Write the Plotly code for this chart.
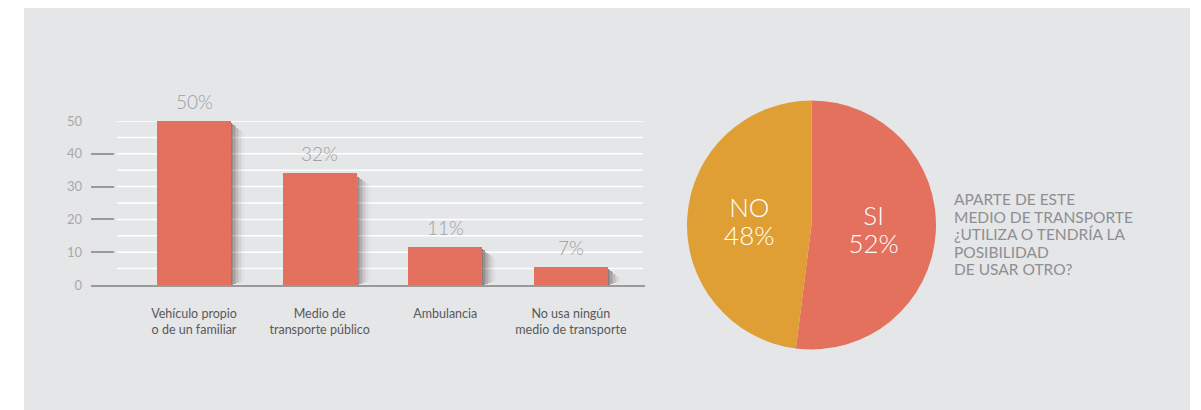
import plotly.graph_objects as go

# ---- data ----
categories = ["Vehículo propio<br>o de un familiar", "Medio de<br>transporte público",
              "Ambulancia", "No usa ningún<br>medio de transporte"]
bar_values = [50, 34, 11.5, 5.5]          # bar heights as drawn
bar_labels = ["50%", "32%", "11%", "7%"]  # printed labels
y_ticks = [0, 10, 20, 30, 40, 50]
grid_vals = [5, 10, 15, 20, 25, 30, 35, 40, 45, 50]

pie_labels = ["SI", "NO"]
pie_values = [52, 48]
pie_pcts = ["52%", "48%"]
question_lines = ["APARTE DE ESTE", "MEDIO DE TRANSPORTE", "¿UTILIZA O TENDRÍA LA",
                  "POSIBILIDAD", "DE USAR OTRO?"]

W, H = 1201, 410
CORAL = "#e4705e"
GOLD = "#df9f35"
FONT = "Lato"

def px(x):
    return x / W

def py(y):
    return 1 - y / H

fig = go.Figure()
xs = list(range(len(categories)))
bar_w = 0.59

# shadow strips to the right of bars
n_strips = 10
strip_w = 0.012
for i in range(n_strips):
    alpha = 0.5 * (1 - i / n_strips) ** 1.8
    tops = [max(v - 0.35 * i - 0.6, 0.2) for v in bar_values]
    bases = [min(0.15 * i, t) for t in tops]
    fig.add_trace(go.Bar(
        x=xs, y=[t - b for t, b in zip(tops, bases)], base=bases,
        width=strip_w, offset=bar_w / 2 - 0.006 + i * strip_w,
        marker=dict(color=f"rgba(45,20,20,{alpha:.3f})", line=dict(width=0)),
        hoverinfo="skip", showlegend=False))

fig.add_trace(go.Bar(
    x=xs, y=bar_values, width=bar_w,
    marker=dict(color=CORAL, line=dict(width=0)),
    showlegend=False, cliponaxis=False))

for x, v, t in zip(xs, bar_values, bar_labels):
    fig.add_annotation(x=x, y=v, xref="x", yref="y", text=t, showarrow=False,
                       yanchor="bottom", yshift=6,
                       font=dict(family=FONT, size=19, color="#9d9fa2", weight=300))

# background panel
fig.add_shape(type="rect", xref="paper", yref="paper",
              x0=px(24), x1=px(1190), y0=0, y1=py(8),
              fillcolor="#e5e6e8", line=dict(width=0), layer="below")

# gridlines
for g in grid_vals:
    fig.add_shape(type="line", xref="paper", yref="y",
                  x0=px(117), x1=px(643), y0=g, y1=g,
                  line=dict(color="white", width=1.5), layer="below")

pie_text = [f"<span style='font-size:26px'>{l}</span><br><span style='font-size:26px'>{p}</span>"
            for l, p in zip(pie_labels, pie_pcts)]
fig.add_trace(go.Pie(
    labels=pie_labels, values=pie_values, text=pie_text, textinfo="text",
    sort=False, direction="clockwise", rotation=0,
    marker=dict(colors=[CORAL, GOLD], line=dict(width=0)),
    textposition="inside", insidetextorientation="horizontal",
    insidetextfont=dict(family=FONT, size=22, color="white", weight=300),
    domain=dict(x=[px(687), px(936)], y=[py(350), py(100)]),
    showlegend=False, hoverinfo="label+percent"))

question = "<br>".join(f"<span style='font-size:15.5px'>{l}</span>" for l in question_lines)
fig.add_annotation(x=px(952), y=py(188), xref="paper", yref="paper",
                   xanchor="left", yanchor="top", align="left", showarrow=False,
                   text=question,
                   font=dict(family=FONT, size=13.5, color="#8d8f92"))

fig.update_layout(
    width=W, height=H, autosize=False,
    margin=dict(l=0, r=0, t=0, b=0, pad=0, autoexpand=False),
    showlegend=False,
    paper_bgcolor="white", plot_bgcolor="rgba(0,0,0,0)",
    barmode="overlay", bargap=0,
    xaxis=dict(domain=[px(91), px(645)], range=[-0.82, 3.59],
               tickvals=xs, ticktext=categories, ticks="",
               showline=True, linecolor="#9a9a9a", linewidth=1.5,
               showgrid=False, zeroline=False, ticklabelstandoff=16, automargin=False,
               tickfont=dict(family=FONT, size=12.5, color="#58595b"), fixedrange=True),
    yaxis=dict(domain=[py(285), py(121)], range=[0, 50],
               tickvals=y_ticks, ticks="inside", ticklen=23, tickwidth=1.5,
               tickcolor="#9a9a9a", showline=False, showgrid=False, zeroline=False,
               ticklabelstandoff=8, automargin=False,
               tickfont=dict(family=FONT, size=13, color="#a7a9ac"), fixedrange=True),
    font=dict(family=FONT),
)

post = """
var de = document.documentElement, b = document.body;
de.style.margin='0'; de.style.padding='0'; de.style.overflow='hidden';
b.style.margin='0'; b.style.padding='0'; b.style.overflow='hidden';
"""
fig.write_html("out.html",
               config={"responsive": False, "displayModeBar": False},
               post_script=post)
